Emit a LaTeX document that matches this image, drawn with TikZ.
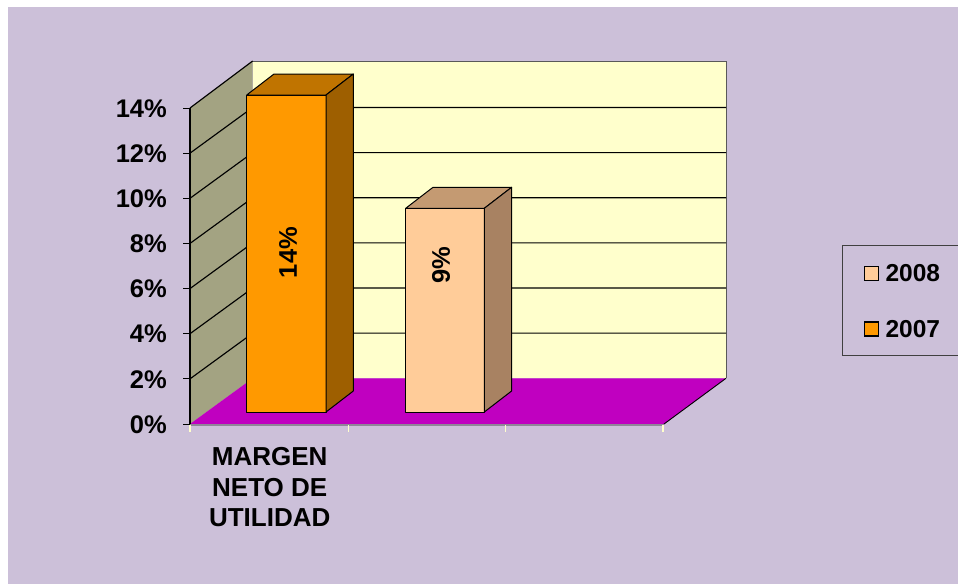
\documentclass[tikz,border=0pt]{standalone}
\usepackage{fontspec}
\setmainfont{Liberation Sans}
\usepackage{tikz}
\usetikzlibrary{positioning,calc}

\definecolor{lavanda}{HTML}{CCC0D9}
\definecolor{pared}{HTML}{A3A382}
\definecolor{fondo}{HTML}{FFFFCC}
\definecolor{piso}{HTML}{C000C0}
\definecolor{naranja}{HTML}{FF9900}
\definecolor{naranjatop}{HTML}{C07400}
\definecolor{naranjalado}{HTML}{9E5F00}
\definecolor{durazno}{HTML}{FFCC99}
\definecolor{duraznotop}{HTML}{C49A72}
\definecolor{duraznolado}{HTML}{A88262}

\begin{document}
\begin{tikzpicture}[
    x=1pt, y=-1pt,
    eje/.style={font=\bfseries\fontsize{25.5}{30}\selectfont, inner sep=0pt, anchor=east},
    valor/.style={font=\bfseries\fontsize{25.5}{30}\selectfont, inner sep=0pt, rotate=90},
    categoria/.style={font=\bfseries\fontsize{26}{30.3}\selectfont, inner sep=0pt, align=center},
    leyenda/.style={font=\bfseries\fontsize{24.5}{28}\selectfont, inner sep=0pt},
    cuadro/.style={draw=black, line width=1.3pt, minimum size=14pt, inner sep=0pt},
    cara/.style={draw=black, line width=1pt, line join=round},
    rejilla/.style={black, line width=1.15pt}
]
\useasboundingbox (0,0) rectangle (958,584);
\fill[lavanda] (8,7) rectangle (958,584);

% Walls and floor
\fill[fondo] (252.7,61) rectangle (726,378.3);
\draw[gray!70!black, line width=0.6pt] (252.7,61) -- (726,61) -- (726,378.3);
\fill[pared] (190,108) -- (252.7,61) -- (252.7,378.3) -- (190,424) -- cycle;
\fill[piso] (190,424) -- (252.7,378.3) -- (726,378.3) -- (664,424) -- cycle;
\draw[black, line width=0.9pt] (726,378.3) -- (664,424);
\draw[black!30!lavanda, line width=1.2pt] (190,425) -- (664,425);
\draw[rejilla] (190,108) -- (252.7,61);

% Grid lines
\foreach \i in {1,...,6} {
  \draw[rejilla] (190,424-\i*45.14) -- (252.7,378.3-\i*45.14) -- (726,378.3-\i*45.14);
}

% Axis and ticks
\draw[black, line width=1.5pt] (190,108) -- (190,424);
\foreach \i in {0,...,7} {
  \draw[black, line width=1pt] (183.3,424-\i*45.14) -- (190,424-\i*45.14);
  \pgfmathtruncatemacro{\pct}{2*\i}
  \node[eje] (y\i) at (167,424.5-\i*45.14) {\pct\%};
}
\foreach \x in {190,348.7,505.3,663} {
  \draw[fondo, line width=1.5pt] (\x,425) -- (\x,432);
}

% Bars
\foreach \xa/\xb/\yt/\cf/\ct/\cl in {246.7/326/95/naranja/naranjatop/naranjalado,
                                     405.7/484.3/208.3/durazno/duraznotop/duraznolado} {
  \filldraw[cara, fill=\cf] (\xa,\yt) rectangle (\xb,412);
  \filldraw[cara, fill=\ct] (\xa,\yt) -- (\xa+27.3,\yt-21) -- (\xb+27.3,\yt-21) -- (\xb,\yt) -- cycle;
  \filldraw[cara, fill=\cl] (\xb,\yt) -- (\xb+27.3,\yt-21) -- (\xb+27.3,391) -- (\xb,412) -- cycle;
}
\node[valor] (v2007) at (288,252.5) {14\%};
\node[valor] (v2008) at (441,265) {9\%};

% Category
\node[categoria, anchor=north] (margen) at (269.7,447.5) {MARGEN\\NETO DE\\UTILIDAD};

% Legend
\draw[gray!50!black, line width=0.7pt] (970,245.7) -- (842.7,245.7) -- (842.7,355) -- (970,355);
\node[cuadro, fill=durazno] (c2008) at (871.2,273.3) {};
\node[leyenda, right=6.5pt of c2008] (t2008) {2008};
\node[cuadro, fill=naranja, below=40.5pt of c2008] (c2007) {};
\node[leyenda, right=6.5pt of c2007] (t2007) {2007};

\end{tikzpicture}
\end{document}
